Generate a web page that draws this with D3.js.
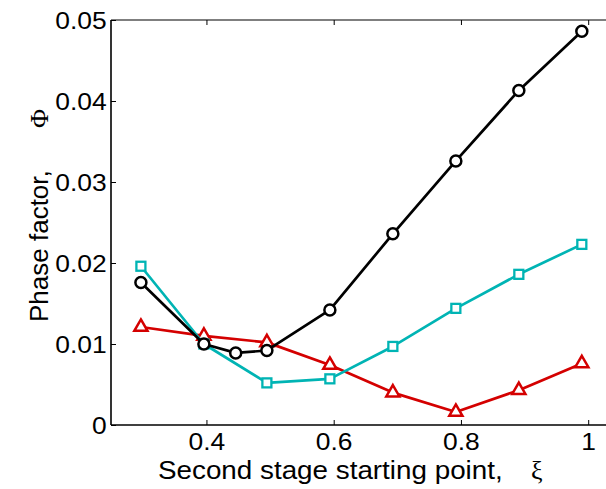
<!DOCTYPE html>
<html>
<head>
<meta charset="utf-8">
<script src="https://cdn.jsdelivr.net/npm/d3@7"></script>
<style>
  html, body { margin: 0; padding: 0; background: #fff; }
  svg { display: block; font-family: "Liberation Sans", Arial, sans-serif; }
</style>
</head>
<body>
<svg id="chart" width="606" height="489"></svg>
<script>
// Second-stage starting points ξ for each series
const xiBlack = [0.297, 0.396, 0.446, 0.495, 0.594, 0.693, 0.792, 0.891, 0.990];
const phiBlack = [0.0176, 0.0100, 0.0089, 0.0092, 0.0142, 0.0236, 0.0326, 0.0413, 0.0486];

const xiCyan = [0.297, 0.396, 0.495, 0.594, 0.693, 0.792, 0.891, 0.990];
const phiCyan = [0.0196, 0.0100, 0.0052, 0.0057, 0.0097, 0.0144, 0.0186, 0.0223];

const xiRed = [0.297, 0.396, 0.495, 0.594, 0.693, 0.792, 0.891, 0.990];
const phiRed = [0.0121, 0.0110, 0.0102, 0.0074, 0.0040, 0.0016, 0.0043, 0.0076];

const xTicks = [0.4, 0.6, 0.8, 1];
const yTicks = [0, 0.01, 0.02, 0.03, 0.04, 0.05];

const svg = d3.select("#chart");
const plotL = 111, plotR = 620, plotT = 20, plotB = 425;

const x = d3.scaleLinear().domain([0.25, 1.05]).range([plotL, plotR]);
const y = d3.scaleLinear().domain([0, 0.05]).range([plotB, plotT]);

// Frame: left, bottom, top lines
const frame = svg.append("g").attr("stroke", "#000").attr("stroke-width", 1.6).attr("fill", "none");
frame.append("line").attr("x1", plotL).attr("x2", plotL).attr("y1", plotT).attr("y2", plotB);
frame.append("line").attr("x1", plotL).attr("x2", plotR).attr("y1", plotB).attr("y2", plotB);
frame.append("line").attr("x1", plotL).attr("x2", plotR).attr("y1", plotT).attr("y2", plotT).attr("stroke-width", 1.2);

// Axes with inward ticks
const xAxis = svg.append("g").attr("transform", `translate(0,${plotB})`)
  .call(d3.axisBottom(x).tickValues(xTicks).tickSize(-5).tickPadding(8)
    .tickFormat(d => d === 1 ? "1" : d3.format(".1f")(d)));
const xAxisTop = svg.append("g").attr("transform", `translate(0,${plotT})`)
  .call(d3.axisTop(x).tickValues(xTicks).tickSize(-5).tickFormat(""));
const yAxis = svg.append("g").attr("transform", `translate(${plotL},0)`)
  .call(d3.axisLeft(y).tickValues(yTicks).tickSize(-5).tickPadding(4)
    .tickFormat(d => d === 0 ? "0" : d3.format(".2f")(d)));

[xAxis, xAxisTop, yAxis].forEach(g => {
  g.select(".domain").remove();
  g.selectAll(".tick line").attr("stroke", "#000").attr("stroke-width", 1);
  g.selectAll("text").attr("fill", "#000").style("font-size", "24px")
    .style("font-family", "'Liberation Sans', Arial, sans-serif")
    .attr("transform", "scale(1.1,1)");
});
yAxis.selectAll("text").attr("dy", "0.36em");

// Axis titles, with the Greek symbol set apart in a serif face
const xTitle = svg.append("text")
  .attr("x", 0).attr("y", 0)
  .style("font-size", "26px")
  .text("Second stage starting point,");
// widen the title to span 345 px, as a slightly stretched face
const natural = xTitle.node().getComputedTextLength() || 312;
xTitle.attr("transform", `translate(158,479) scale(${345 / natural},1)`);

svg.append("text")
  .attr("x", 531).attr("y", 479)
  .style("font-size", "26px")
  .style("font-family", "'Liberation Serif', 'DejaVu Serif', serif")
  .text("ξ");

const yTitle = svg.append("text")
  .attr("transform", "translate(48,322) rotate(-90)")
  .style("font-size", "26px");
yTitle.append("tspan").attr("x", 0).text("Phase factor,");
yTitle.append("tspan").attr("x", 194)
  .style("font-family", "'Liberation Serif', 'DejaVu Serif', serif").text("Φ");

const line = d3.line().x(d => x(d[0])).y(d => y(d[1]));

function series(xs, ys, color, shape) {
  const pts = xs.map((v, i) => [v, ys[i]]);
  const g = svg.append("g");
  g.append("path").datum(pts).attr("d", line)
    .attr("fill", "none").attr("stroke", color).attr("stroke-width", 2.7)
    .attr("stroke-linejoin", "round");
  const m = g.selectAll(".m").data(pts).enter();
  if (shape === "circle") {
    m.append("circle").attr("cx", d => x(d[0])).attr("cy", d => y(d[1])).attr("r", 5.5)
      .attr("fill", "#fff").attr("stroke", color).attr("stroke-width", 2.5);
  } else if (shape === "square") {
    m.append("rect").attr("x", d => x(d[0]) - 4.5).attr("y", d => y(d[1]) - 4.5)
      .attr("width", 9).attr("height", 9)
      .attr("fill", "#fff").attr("stroke", color).attr("stroke-width", 2.3);
  } else {
    const sym = d3.symbol().type(d3.symbolTriangle).size(75);
    m.append("path").attr("d", sym)
      .attr("transform", d => `translate(${x(d[0])},${y(d[1])})`)
      .attr("fill", "#fff").attr("stroke", color).attr("stroke-width", 2.5);
  }
}

series(xiRed, phiRed, "#d40000", "triangle");
series(xiCyan, phiCyan, "#00b4b4", "square");
series(xiBlack, phiBlack, "#000", "circle");
</script>
</body>
</html>
